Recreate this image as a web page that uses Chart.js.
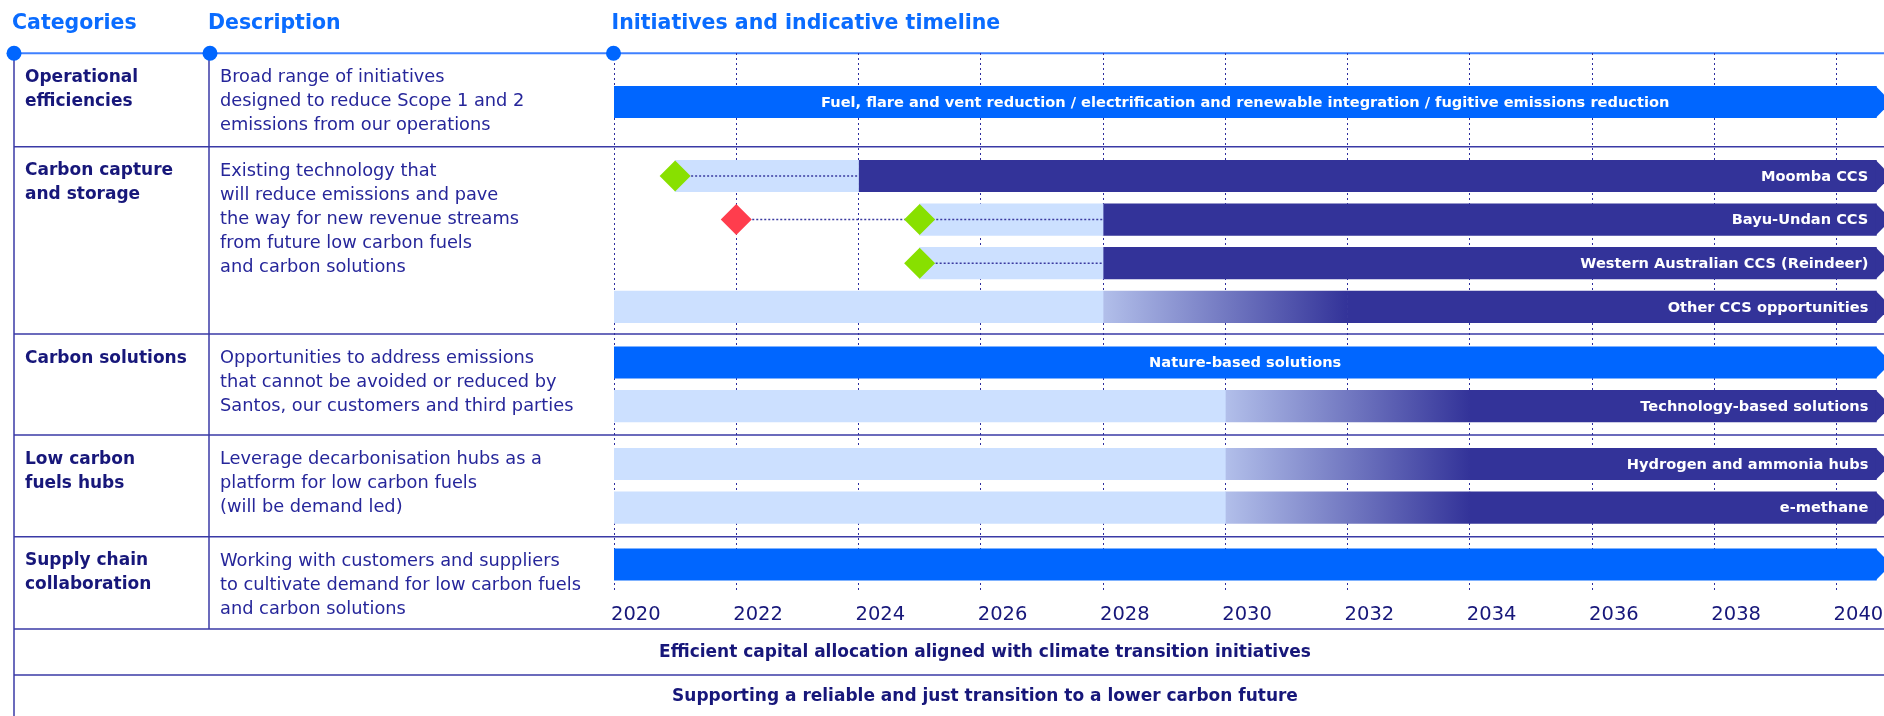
<!DOCTYPE html>
<html>
<head>
<meta charset="utf-8">
<title>Initiatives and indicative timeline</title>
<script src="https://cdn.jsdelivr.net/npm/chart.js@4.4.1/dist/chart.umd.min.js"></script>
<style>
  html, body { margin: 0; padding: 0; background: #fff; }
  #chart-section { width: 1884px; height: 716px; }
</style>
</head>
<body>
<div id="chart-section"><canvas id="chart" width="1884" height="716"></canvas></div>
<script>
// ---------- data ----------
const headers = ["Categories", "Description", "Initiatives and indicative timeline"];

const categories = [
  ["Operational", "efficiencies"],
  ["Carbon capture", "and storage"],
  ["Carbon solutions"],
  ["Low carbon", "fuels hubs"],
  ["Supply chain", "collaboration"]
];

const descriptions = [
  ["Broad range of initiatives", "designed to reduce Scope 1 and 2", "emissions from our operations"],
  ["Existing technology that", "will reduce emissions and pave", "the way for new revenue streams",
   "from future low carbon fuels", "and carbon solutions"],
  ["Opportunities to address emissions", "that cannot be avoided or reduced by",
   "Santos, our customers and third parties"],
  ["Leverage decarbonisation hubs as a", "platform for low carbon fuels", "(will be demand led)"],
  ["Working with customers and suppliers", "to cultivate demand for low carbon fuels", "and carbon solutions"]
];

const yearTicks = [2020, 2022, 2024, 2026, 2028, 2030, 2032, 2034, 2036, 2038, 2040];

const initiatives = [
  "Fuel, flare and vent reduction / electrification and renewable integration / fugitive emissions reduction",
  "Moomba CCS",
  "Bayu-Undan CCS",
  "Western Australian CCS (Reindeer)",
  "Other CCS opportunities",
  "Nature-based solutions",
  "Technology-based solutions",
  "Hydrogen and ammonia hubs",
  "e-methane",
  ""
];
const initiativeCategory = [0, 1, 1, 1, 1, 2, 2, 3, 3, 4];
const initiativeStatus = ["ongoing", "planned", "planned", "planned", "emerging",
                          "ongoing", "emerging", "emerging", "emerging", "ongoing"];
const developStart = [null, 2021, 2025, 2025, 2020, null, 2020, 2020, 2020, null];
const operateStart = [2020, 2024, 2028, 2028, 2028, 2020, 2030, 2030, 2030, 2020];
const rampEnd      = [null, null, null, null, 2032, null, 2034, 2034, 2034, null];
const timelineEnd = 2040.65;
const greenMilestones = [null, 2021, 2025, 2025, null, null, null, null, null, null];
const redMilestones   = [null, null, 2022, null, null, null, null, null, null, null];

const footerNotes = [
  "Efficient capital allocation aligned with climate transition initiatives",
  "Supporting a reliable and just transition to a lower carbon future"
];

// ---------- layout & style ----------
const FAMILY = '"DejaVu Sans", sans-serif';
const LAYOUT = {
  rowEdges: [53.3, 146.7, 334, 435, 536.7, 629, 675],
  columnX: [14, 210, 613.5],
  headerY: 23.5,
  firstLane: [102, 176, 362.5, 464, 564.5],
  laneStep: 43.6,
  textLead: 24.3,
  lineHeight: 24,
  plotTop: 53,
  plotBottom: 593,
  footerCentre: 985
};
const COLOURS = {
  header: "#0a6cff",
  headerRule: "#3f80ff",
  rule: "#3a3aa6",
  grid: "#2d2d9e",
  category: "#17177a",
  description: "#26269a",
  bright: "#0066ff",
  navy: "#333399",
  light: "#cce0ff",
  rampStart: "#b2bfea",
  green: "#88e000",
  red: "#ff3d4d",
  connector: "#3a3aa0"
};
const BAR = 31.5;

function laneOf(i) {
  const cat = initiativeCategory[i];
  const k = initiativeCategory.slice(0, i).filter(c => c === cat).length;
  return LAYOUT.firstLane[cat] + k * LAYOUT.laneStep;
}

function finalColour(i) {
  return initiativeStatus[i] === "ongoing" ? COLOURS.bright : COLOURS.navy;
}

function rampGradient(c) {
  const chart = c.chart;
  const xs = chart.scales.x;
  if (!xs || !c.raw) return COLOURS.navy;
  const x0 = xs.getPixelForValue(c.raw.x[0]);
  const x1 = xs.getPixelForValue(c.raw.x[1]);
  if (!isFinite(x0) || !isFinite(x1)) return COLOURS.navy;
  const g = chart.ctx.createLinearGradient(x0, 0, x1, 0);
  g.addColorStop(0, COLOURS.rampStart);
  g.addColorStop(1, COLOURS.navy);
  return g;
}

// ---------- datasets ----------
const devBars = [], rampBars = [], operateBars = [], operateColours = [];
const greenPoints = [], redPoints = [], connectors = [];

initiatives.forEach((name, i) => {
  const lane = laneOf(i);
  if (developStart[i] !== null) devBars.push({ x: [developStart[i], operateStart[i]], y: lane });
  if (rampEnd[i] !== null) rampBars.push({ x: [operateStart[i], rampEnd[i]], y: lane });
  operateBars.push({ x: [rampEnd[i] ?? operateStart[i], timelineEnd], y: lane });
  operateColours.push(finalColour(i));
  if (greenMilestones[i] !== null) greenPoints.push({ x: greenMilestones[i], y: lane });
  if (redMilestones[i] !== null) redPoints.push({ x: redMilestones[i], y: lane });
  const marks = [greenMilestones[i], redMilestones[i]].filter(v => v !== null);
  if (marks.length) {
    connectors.push({
      type: "line",
      label: name + " pathway",
      data: [{ x: Math.min(...marks), y: lane }, { x: operateStart[i], y: lane }],
      borderColor: COLOURS.connector,
      borderWidth: 1.5,
      borderDash: [2, 2],
      pointRadius: 0,
      fill: false,
      order: 1
    });
  }
});

function line(ctx, x1, y1, x2, y2) {
  ctx.beginPath();
  ctx.moveTo(x1, y1);
  ctx.lineTo(x2, y2);
  ctx.stroke();
}

const timelineTable = {
  id: "timelineTable",
  beforeDraw(chart) {
    const { ctx, width, height } = chart;
    const L = LAYOUT;
    ctx.save();
    ctx.fillStyle = "#fff";
    ctx.fillRect(0, 0, width, height);

    // column headings
    ctx.textBaseline = "middle";
    ctx.textAlign = "left";
    ctx.font = "bold 20.5px " + FAMILY;
    ctx.fillStyle = COLOURS.header;
    headers.forEach((h, i) => ctx.fillText(h, L.columnX[i] - 2, L.headerY));

    // table rules
    ctx.strokeStyle = COLOURS.rule;
    ctx.lineWidth = 1.5;
    L.rowEdges.slice(1).forEach(y => line(ctx, L.columnX[0], y, width, y));
    line(ctx, L.columnX[0], L.rowEdges[0], L.columnX[0], height);
    line(ctx, L.columnX[1] - 1, L.rowEdges[0], L.columnX[1] - 1, L.rowEdges[5]);

    ctx.strokeStyle = COLOURS.headerRule;
    ctx.lineWidth = 2;
    line(ctx, L.columnX[0], L.rowEdges[0], width, L.rowEdges[0]);

    // category and description text
    categories.forEach((lines, r) => {
      const top = L.rowEdges[r] + L.textLead;
      ctx.font = "bold 17px " + FAMILY;
      ctx.fillStyle = COLOURS.category;
      lines.forEach((t, k) => ctx.fillText(t, 25, top + k * L.lineHeight));
      ctx.font = "17.8px " + FAMILY;
      ctx.fillStyle = COLOURS.description;
      descriptions[r].forEach((t, k) => ctx.fillText(t, 220, top + k * L.lineHeight));
    });

    // footer rows
    ctx.font = "bold 17px " + FAMILY;
    ctx.fillStyle = COLOURS.category;
    ctx.textAlign = "center";
    footerNotes.forEach((t, k) => {
      const y = k === 0 ? (L.rowEdges[5] + L.rowEdges[6]) / 2 + 0.5 : (L.rowEdges[6] + height) / 2 + 1;
      ctx.fillText(t, L.footerCentre, y);
    });
    ctx.restore();
  },
  afterDatasetsDraw(chart) {
    const { ctx } = chart;
    const xs = chart.scales.x, ys = chart.scales.y;
    const xEnd = xs.getPixelForValue(timelineEnd);
    ctx.save();
    ctx.textBaseline = "middle";
    initiatives.forEach((name, i) => {
      const yc = ys.getPixelForValue(laneOf(i));
      const half = BAR / 2;
      ctx.fillStyle = finalColour(i);
      ctx.beginPath();
      ctx.moveTo(xEnd - 0.5, yc - half);
      ctx.lineTo(xEnd + 15, yc);
      ctx.lineTo(xEnd - 0.5, yc + half);
      ctx.closePath();
      ctx.fill();
      if (!name) return;
      ctx.font = "bold 14.6px " + FAMILY;
      ctx.fillStyle = "#fff";
      if (initiativeStatus[i] === "ongoing") {
        ctx.textAlign = "center";
        ctx.fillText(name, (xs.getPixelForValue(operateStart[i]) + xEnd) / 2, yc + 1);
      } else {
        ctx.textAlign = "right";
        ctx.fillText(name, xEnd - 8, yc + 1);
      }
    });
    ctx.restore();
  },
  afterDraw(chart) {
    const { ctx } = chart;
    const xs = chart.scales.x;
    ctx.save();
    // year labels from the axis ticks
    ctx.font = "19.5px " + FAMILY;
    ctx.fillStyle = COLOURS.category;
    ctx.textAlign = "left";
    ctx.textBaseline = "middle";
    xs.ticks.forEach(t => ctx.fillText(String(t.value), xs.getPixelForValue(t.value) - 3, 615));
    // header markers
    ctx.fillStyle = COLOURS.bright;
    LAYOUT.columnX.forEach(x => {
      ctx.beginPath();
      ctx.arc(x, LAYOUT.rowEdges[0], 7.5, 0, Math.PI * 2);
      ctx.fill();
    });
    ctx.restore();
  }
};

const ctx = document.getElementById("chart").getContext("2d");
const timelineChart = new Chart(ctx, {
  type: "bar",
  data: {
    datasets: [
      {
        type: "scatter", label: "Milestone achieved", data: greenPoints,
        pointStyle: "rectRot", pointRadius: 15.5, backgroundColor: COLOURS.green,
        borderWidth: 0, order: 0
      },
      {
        type: "scatter", label: "Milestone pending", data: redPoints,
        pointStyle: "rectRot", pointRadius: 15.5, backgroundColor: COLOURS.red,
        borderWidth: 0, order: 0
      },
      ...connectors,
      { label: "Development", data: devBars, backgroundColor: COLOURS.light, order: 2 },
      { label: "Ramp-up", data: rampBars, backgroundColor: rampGradient, order: 2 },
      { label: "Operation", data: operateBars, backgroundColor: operateColours, order: 2 }
    ]
  },
  options: {
    indexAxis: "y",
    responsive: false,
    animation: false,
    events: [],
    layout: {
      autoPadding: false,
      padding: { left: 614, top: LAYOUT.plotTop, right: 0, bottom: 716 - LAYOUT.plotBottom }
    },
    datasets: {
      bar: { grouped: false, barThickness: BAR, borderWidth: 0 }
    },
    scales: {
      x: {
        type: "linear",
        min: 2020,
        max: 2040.775,
        offset: false,
        afterBuildTicks: scale => { scale.ticks = yearTicks.map(v => ({ value: v })); },
        ticks: { display: false },
        grid: { color: COLOURS.grid, lineWidth: 1, drawTicks: false, offset: false },
        border: { display: false, dash: [2, 3] }
      },
      y: {
        type: "linear",
        display: false,
        reverse: true,
        offset: false,
        grid: { offset: false },
        min: LAYOUT.plotTop,
        max: LAYOUT.plotBottom
      }
    },
    plugins: {
      legend: { display: false },
      tooltip: { enabled: false }
    }
  },
  plugins: [timelineTable]
});
</script>
</body>
</html>
